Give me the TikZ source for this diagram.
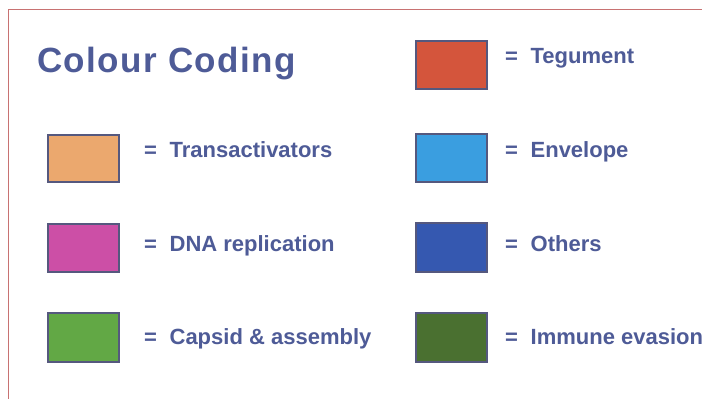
\documentclass[tikz,border=0pt]{standalone}
\usepackage{fontspec}
\setmainfont{Liberation Sans}
\definecolor{txt}{HTML}{4E5B97}
\definecolor{frame}{HTML}{C87272}
\definecolor{boxline}{HTML}{55587E}
\definecolor{cTrans}{HTML}{EBA86E}
\definecolor{cTeg}{HTML}{D4553C}
\definecolor{cEnv}{HTML}{3A9EE0}
\definecolor{cDNA}{HTML}{CC4FA6}
\definecolor{cCap}{HTML}{62A845}
\definecolor{cOth}{HTML}{3558B0}
\definecolor{cImm}{HTML}{4A7030}
\tikzset{
  swatch/.style={draw=boxline, line width=1.2pt},
  lbl/.style={anchor=base west, inner sep=0pt, text=txt, font=\fontsize{22}{24}\selectfont\bfseries},
  ttl/.style={anchor=base west, inner sep=0pt, text=txt, font=\fontsize{35}{40}\selectfont\bfseries\addfontfeature{LetterSpace=4}}
}
\newcommand{\eqlbl}[1]{=\hspace{12.6pt}#1}
\begin{document}
\begin{tikzpicture}[x=1pt,y=-1pt]
\useasboundingbox (0,0) rectangle (702,399);
\fill[white] (0,0) rectangle (702,399);
\draw[frame, line width=1.8pt] (8.5,399) -- (8.5,9.5) -- (702,9.5);
\node[ttl] (title) at (37,72) {Colour Coding};
% left column
\filldraw[swatch, fill=cTrans] (48,135) rectangle (119,182);
\node[lbl] (ltrans) at (144,157) {\eqlbl{Transactivators}};
\filldraw[swatch, fill=cDNA] (48,224) rectangle (119,272);
\node[lbl] (ldna) at (144,251) {\eqlbl{DNA replication}};
\filldraw[swatch, fill=cCap] (48,313) rectangle (119,362);
\node[lbl] (lcap) at (144,344) {\eqlbl{Capsid \& assembly}};
% right column
\filldraw[swatch, fill=cTeg] (416,41) rectangle (487,89);
\node[lbl] (lteg) at (505,63) {\eqlbl{Tegument}};
\filldraw[swatch, fill=cEnv] (416,134) rectangle (487,182);
\node[lbl] (lenv) at (505,157) {\eqlbl{Envelope}};
\filldraw[swatch, fill=cOth] (416,223) rectangle (487,272);
\node[lbl] (loth) at (505,251) {\eqlbl{Others}};
\filldraw[swatch, fill=cImm] (416,313) rectangle (487,362);
\node[lbl] (limm) at (505,344) {\eqlbl{Immune evasion}};
\end{tikzpicture}
\end{document}
